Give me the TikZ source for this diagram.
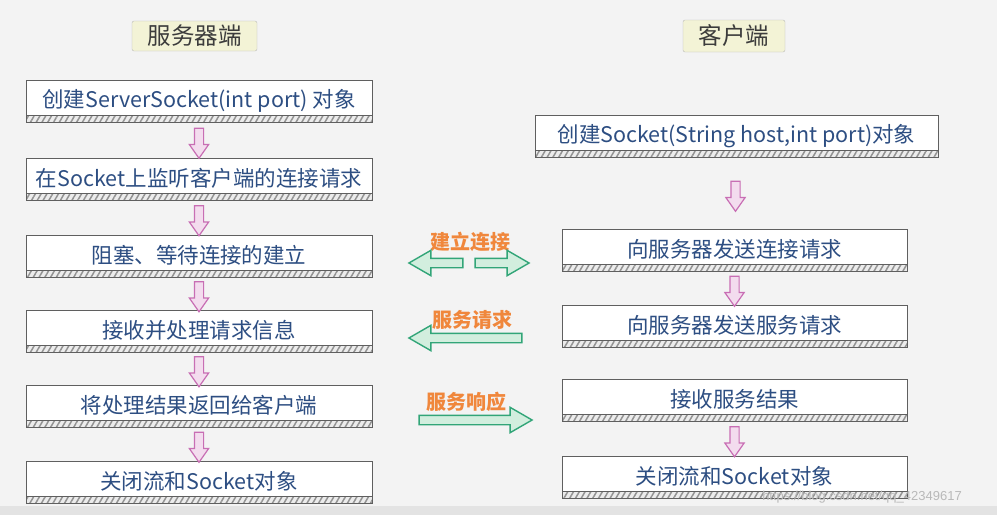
\documentclass[tikz,border=0pt]{standalone}
\usepackage{fontspec}
\setmainfont{Noto Sans CJK SC}
\newfontfamily\wmfont{Liberation Sans}
\usetikzlibrary{shapes.arrows,patterns.meta}
\definecolor{bgc}{RGB}{243,243,243}
\definecolor{boxline}{RGB}{95,95,95}
\definecolor{boxtext}{RGB}{45,78,130}
\definecolor{hdrfill}{RGB}{243,243,214}
\definecolor{hdrtext}{RGB}{60,60,60}
\definecolor{lbl}{RGB}{240,135,60}
\definecolor{grline}{RGB}{50,165,120}
\definecolor{grfill}{RGB}{210,238,222}
\definecolor{pkline}{RGB}{200,110,180}
\definecolor{pkfill}{RGB}{243,220,238}
\begin{document}
\begin{tikzpicture}[x=1pt,y=-1pt,
  stepbox/.style={draw=boxline, fill=white, line width=0.8pt, minimum height=42pt,
    inner sep=0pt, text=boxtext, font=\fontsize{21.5}{24}\selectfont,
    path picture={
      \fill[gray!15] ([yshift=7pt]path picture bounding box.south west) rectangle (path picture bounding box.south east);
      \fill[pattern={Lines[angle=60,distance=5pt,line width=1.5pt]}, pattern color=gray!85]
        ([yshift=7pt]path picture bounding box.south west) rectangle (path picture bounding box.south east);
      \draw[boxline, line width=0.8pt] ([yshift=7pt]path picture bounding box.south west) -- ([yshift=7pt]path picture bounding box.south east);
    }},
  hdr/.style={draw=gray!55, fill=hdrfill, rounded corners=2pt, inner sep=0pt,
    text=hdrtext, font=\fontsize{23.5}{26}\selectfont},
  downarr/.style={single arrow, draw=pkline, fill=pkfill, line width=1.2pt,
    inner sep=4pt, minimum height=30pt, single arrow head extend=5pt,
    single arrow tip angle=70, shape border rotate=270},
  flowarr/.style={single arrow, draw=grline, fill=grfill, line width=1.4pt,
    inner sep=4pt, single arrow head extend=8pt, single arrow tip angle=60},
  lbltext/.style={text=lbl, font=\fontsize{20}{22}\selectfont\bfseries, inner sep=0pt}
]
\useasboundingbox (0,0) rectangle (997,515);
\fill[bgc] (0,0) rectangle (997,515);
\fill[gray!22] (0,506) rectangle (997,515);

% headers
\node[hdr, minimum width=125pt, minimum height=30pt] (hs) at (194.5,36) {服务器端};
\node[hdr, minimum width=102pt, minimum height=32pt] (hc) at (734,36) {客户端};

% server column
\node[stepbox, minimum width=346pt] (s1) at (199,101) {\raisebox{3.5pt}{创建ServerSocket(int port) 对象}};
\node[stepbox, minimum width=346pt] (s2) at (199,179) {\raisebox{3.5pt}{在Socket上监听客户端的连接请求}};
\node[stepbox, minimum width=346pt] (s3) at (199,256) {\raisebox{3.5pt}{阻塞、等待连接的建立}};
\node[stepbox, minimum width=346pt] (s4) at (199,331) {\raisebox{3.5pt}{接收并处理请求信息}};
\node[stepbox, minimum width=346pt] (s5) at (199,406) {\raisebox{3.5pt}{将处理结果返回给客户端}};
\node[stepbox, minimum width=346pt] (s6) at (199,482) {\raisebox{3.5pt}{关闭流和Socket对象}};

% client column
\node[stepbox, minimum width=403pt] (c1) at (736.5,136) {\raisebox{3.5pt}{创建Socket(String host,int port)对象}};
\node[stepbox, minimum width=345pt] (c2) at (734.5,250) {\raisebox{3.5pt}{向服务器发送连接请求}};
\node[stepbox, minimum width=345pt] (c3) at (734.5,326) {\raisebox{3.5pt}{向服务器发送服务请求}};
\node[stepbox, minimum width=345pt] (c4) at (734.5,400) {\raisebox{3.5pt}{接收服务结果}};
\node[stepbox, minimum width=345pt] (c5) at (734.5,477) {\raisebox{3.5pt}{关闭流和Socket对象}};

% vertical flow arrows
\path (s1.south) -- (s2.north) node[midway, downarr] (as1) {};
\path (s2.south) -- (s3.north) node[midway, downarr] (as2) {};
\path (s3.south) -- (s4.north) node[midway, downarr] (as3) {};
\path (s4.south) -- (s5.north) node[midway, downarr] (as4) {};
\path (s5.south) -- (s6.north) node[midway, downarr] (as5) {};
\path (c1.south) -- (c2.north) node[midway, downarr] (ac1) {};
\path (c2.south) -- (c3.north) node[midway, downarr] (ac2) {};
\path (c4.south) -- (c5.north) node[midway, downarr] (ac4) {};

% exchange arrows
\node[lbltext] (l1) at (470,242) {建立连接};
\node[flowarr, minimum height=54pt, shape border rotate=180] (m1a) at (440,263) {};
\node[flowarr, minimum height=54pt] (m1b) at (498,263) {};
\node[lbltext] (l2) at (472,320) {服务请求};
\node[flowarr, minimum height=113pt, shape border rotate=180] (m2) at (469.5,338) {};
\node[lbltext] (l3) at (466,402) {服务响应};
\node[flowarr, minimum height=113pt] (m3) at (471.5,420) {};

% watermark
\node[text=gray!55, font=\wmfont\fontsize{13}{15}\selectfont, inner sep=0pt] (wm) at (862,497) {https://blog.csdn.net/qq\_42349617};
\end{tikzpicture}
\end{document}
